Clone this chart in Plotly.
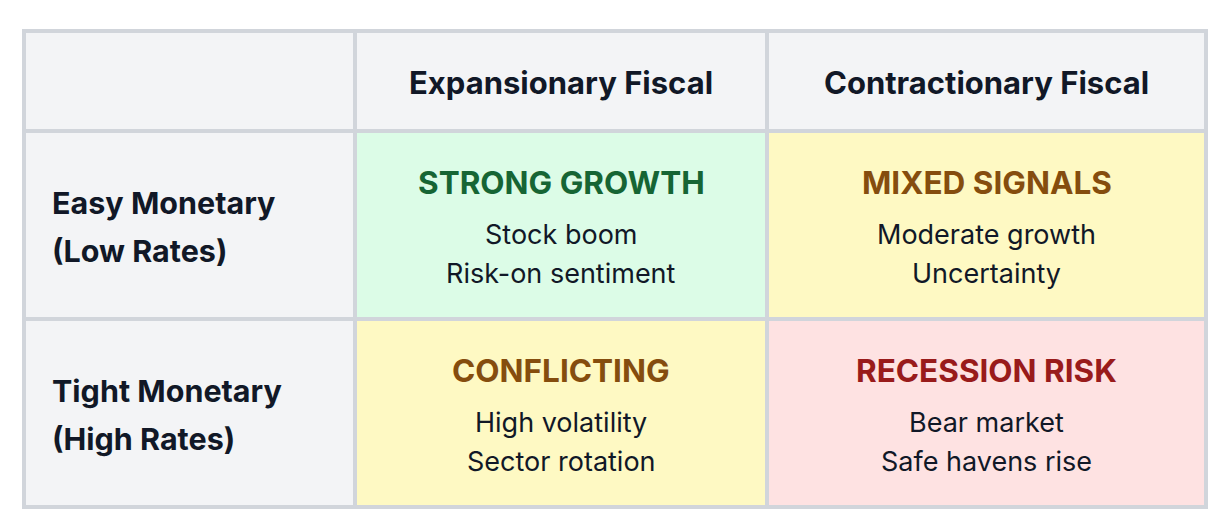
import plotly.graph_objects as go

# ---- data ----
col_headers = ["Expansionary Fiscal", "Contractionary Fiscal"]
row_labels = [["Easy Monetary", "(Low Rates)"], ["Tight Monetary", "(High Rates)"]]
quad_titles = [["STRONG GROWTH", "MIXED SIGNALS"], ["CONFLICTING", "RECESSION RISK"]]
quad_lines = [
    [["Stock boom", "Risk-on sentiment"], ["Moderate growth", "Uncertainty"]],
    [["High volatility", "Sector rotation"], ["Bear market", "Safe havens rise"]],
]
quad_kind = [["good", "mixed"], ["mixed", "bad"]]

# ---- style ----
FONT = "Inter, 'Noto Sans', sans-serif"
TXT = "#111827"
BORDER = "#d1d5db"
HEAD_BG = "#f3f4f6"
FILL = {"good": "#dcfce7", "mixed": "#fef9c3", "bad": "#fee2e2"}
TITLE_C = {"good": "#166534", "mixed": "#854d0e", "bad": "#991b1b"}

# page offset of the plot div (browser default body margin)
OFF = 8
W, H = 1226, 527

xs = [24, 355, 767, 1206]
ys = [31, 131, 319, 507]

fig = go.Figure()
shapes = []
ann = []

def rect(x0, x1, y0, y1, fill):
    shapes.append(dict(type="rect", xref="x", yref="y", x0=x0, x1=x1, y0=y0, y1=y1,
                       fillcolor=fill, line=dict(color=BORDER, width=4), layer="below"))

# header row
for c in range(3):
    rect(xs[c], xs[c + 1], ys[0], ys[1], HEAD_BG)
for c, h in enumerate(col_headers):
    ann.append(dict(x=(xs[c + 1] + xs[c + 2]) / 2, y=(ys[0] + ys[1]) / 2 + 1, text=h,
                    font=dict(family=FONT, size=31, color=TXT, weight=700),
                    showarrow=False, xanchor="center", yanchor="middle"))

for r in range(2):
    y0, y1 = ys[r + 1], ys[r + 2]
    yc = (y0 + y1) / 2
    rect(xs[0], xs[1], y0, y1, HEAD_BG)
    for i, line in enumerate(row_labels[r]):
        ann.append(dict(x=xs[0] + 26, y=yc - 23 + 48 * i, text=line,
                        font=dict(family=FONT, size=30.5, color=TXT, weight=700),
                        showarrow=False, xanchor="left", yanchor="middle"))
    for c in range(2):
        kind = quad_kind[r][c]
        rect(xs[c + 1], xs[c + 2], y0, y1, FILL[kind])
        xc = (xs[c + 1] + xs[c + 2]) / 2
        ann.append(dict(x=xc, y=yc - 43, text=quad_titles[r][c],
                        font=dict(family=FONT, size=31.5, color=TITLE_C[kind], weight=700),
                        showarrow=False, xanchor="center", yanchor="middle"))
        for i, line in enumerate(quad_lines[r][c]):
            ann.append(dict(x=xc, y=yc + 9 + 39 * i, text=line,
                            font=dict(family=FONT, size=27, color=TXT),
                            showarrow=False, xanchor="center", yanchor="middle"))

fig.update_layout(
    width=W - OFF, height=H - OFF,
    margin=dict(l=0, r=0, t=0, b=0),
    paper_bgcolor="white", plot_bgcolor="white",
    xaxis=dict(range=[OFF, W], visible=False, fixedrange=True),
    yaxis=dict(range=[H, OFF], visible=False, fixedrange=True),
    shapes=shapes, annotations=ann, showlegend=False,
)
fig.write_html("out.html", config={"displayModeBar": False})
